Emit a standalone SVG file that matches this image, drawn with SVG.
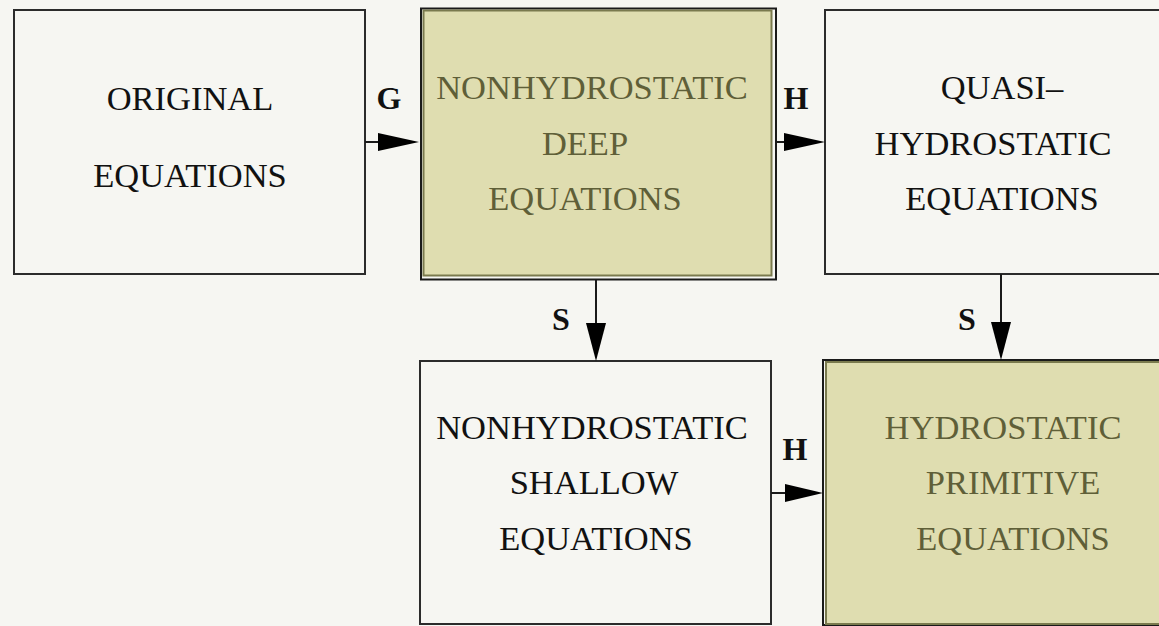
<svg xmlns="http://www.w3.org/2000/svg" width="1159" height="626" viewBox="0 0 1159 626">
<style>
.box{fill:#f6f6f2;stroke:#2b2b2b;stroke-width:2}
.olive{fill:#dfddb0;stroke:#7a7a4e;stroke-width:2}
.outer{fill:none;stroke:#1a1a1a;stroke-width:2}
.t{font-family:"Liberation Serif","Times New Roman",serif;font-size:34.5px;text-anchor:middle;fill:#111}
.to{font-family:"Liberation Serif","Times New Roman",serif;font-size:34.5px;text-anchor:middle;fill:#5f5f38}
.lbl{font-family:"Liberation Serif","Times New Roman",serif;font-size:32px;font-weight:bold;text-anchor:middle;fill:#111}
.ln{stroke:#1a1a1a;stroke-width:2;fill:none}
.ah{fill:#000}
</style>
<rect width="1159" height="626" fill="#f6f6f2"/>
<g id="original">
<rect class="box" x="14" y="10" width="351" height="264"/>
<text class="t" x="190" y="110">ORIGINAL</text>
<text class="t" x="190" y="187">EQUATIONS</text>
</g>
<g id="nonhydro-deep">
<rect class="outer" x="421" y="8.5" width="355" height="271"/>
<rect class="olive" x="423.5" y="10.5" width="348" height="265"/>
<text class="to" x="592" y="99">NONHYDROSTATIC</text>
<text class="to" x="585" y="155">DEEP</text>
<text class="to" x="585" y="210">EQUATIONS</text>
</g>
<g id="quasi">
<rect class="box" x="825" y="10" width="345" height="264"/>
<text class="t" x="1002" y="99">QUASI–</text>
<text class="t" x="993" y="155">HYDROSTATIC</text>
<text class="t" x="1002" y="210">EQUATIONS</text>
</g>
<g id="nonhydro-shallow">
<rect class="box" x="420" y="361" width="351" height="263"/>
<text class="t" x="592" y="439">NONHYDROSTATIC</text>
<text class="t" x="594" y="494">SHALLOW</text>
<text class="t" x="596" y="550">EQUATIONS</text>
</g>
<g id="hydro-primitive">
<rect class="outer" x="823" y="360" width="350" height="265"/>
<rect class="olive" x="826" y="362" width="345" height="262"/>
<text class="to" x="1003" y="439">HYDROSTATIC</text>
<text class="to" x="1013" y="494">PRIMITIVE</text>
<text class="to" x="1013" y="550">EQUATIONS</text>
</g>
<g id="connectors">
<line class="ln" x1="365" y1="142" x2="380" y2="142"/>
<polygon class="ah" points="419,142 378,133 378,151"/>
<text class="lbl" x="389" y="109">G</text>
<line class="ln" x1="776" y1="142" x2="788" y2="142"/>
<polygon class="ah" points="825,142 784,133 784,151"/>
<text class="lbl" x="796" y="109">H</text>
<line class="ln" x1="596" y1="280" x2="596" y2="326"/>
<polygon class="ah" points="596,361 586,323 606,323"/>
<text class="lbl" x="561" y="330">S</text>
<line class="ln" x1="1001" y1="274" x2="1001" y2="326"/>
<polygon class="ah" points="1001,360 991,322 1011,322"/>
<text class="lbl" x="967" y="330">S</text>
<line class="ln" x1="771" y1="493" x2="787" y2="493"/>
<polygon class="ah" points="823,493 785,484 785,502"/>
<text class="lbl" x="795" y="460">H</text>
</g>
</svg>
